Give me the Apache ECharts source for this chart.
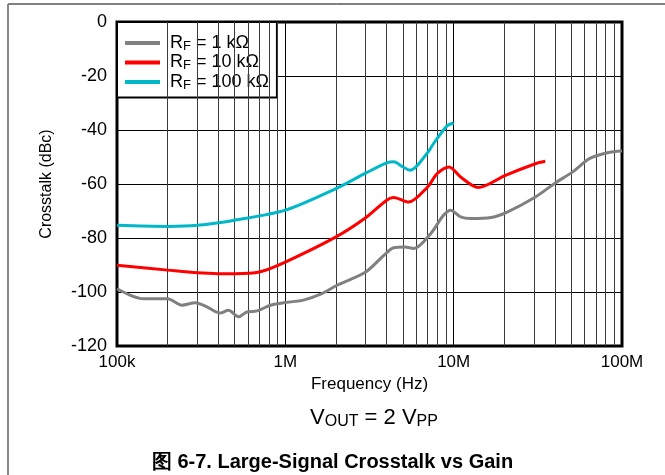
<!DOCTYPE html>
<html>
<head>
<meta charset="utf-8">
<script src="https://cdn.jsdelivr.net/npm/echarts@6/dist/echarts.min.js"></script>
<style>html,body{margin:0;padding:0;background:#fff}#c{width:665px;height:475px}</style>
</head>
<body>
<div id="c"></div>
<script>
// Frequency (Hz) and crosstalk (dBc)
var freq1k = [1.0e5,1.2e5,1.43e5,2.0e5,2.43e5,2.91e5,3.42e5,4.1e5,4.6e5,5.28e5,5.9e5,6.8e5,8.15e5,9.75e5,1.28e6,1.62e6,2.03e6,3.0e6,3.85e6,4.4e6,5.1e6,5.8e6,7.3e6,8.7e6,9.6e6,1.1e7,1.26e7,1.67e7,2.08e7,3.06e7,4.02e7,5.1e7,6.4e7,8.2e7,1.0e8];
var xt1k   = [-98.8,-101.2,-102.5,-102.5,-104.9,-104.0,-105.5,-107.8,-106.8,-109.2,-107.4,-107.0,-104.9,-104.0,-103.0,-100.8,-97.5,-92.6,-86.4,-83.6,-83.3,-83.9,-78.4,-71.6,-69.7,-72.2,-72.8,-72.4,-70.4,-64.8,-59.6,-55.5,-50.6,-48.4,-47.8];
var freq10k = [1.0e5,2.0e5,3.0e5,4.0e5,5.0e5,7.0e5,1.0e6,2.0e6,3.0e6,4.0e6,4.4e6,5.4e6,7.0e6,8.0e6,9.4e6,1.1e7,1.4e7,2.03e7,3.06e7,3.5e7];
var xt10k   = [-90.1,-91.9,-92.9,-93.2,-93.2,-92.6,-88.9,-79.6,-72.5,-66.0,-65.0,-66.7,-61.1,-56.1,-53.7,-57.4,-61.3,-56.8,-52.5,-51.6];
var freq100k = [1.0e5,2.0e5,3.0e5,5.0e5,1.0e6,2.0e6,3.0e6,4.0e6,4.4e6,5.0e6,5.5e6,7.0e6,7.6e6,8.7e6,9.2e6,1.0e7];
var xt100k   = [-75.3,-75.7,-75.3,-73.4,-69.7,-61.7,-56.0,-52.2,-51.8,-53.7,-54.9,-48.4,-45.0,-40.0,-38.3,-37.4];
var seriesNames = ['R{s|F} = 1 kΩ','R{s|F} = 10 kΩ','R{s|F} = 100 kΩ'];
var seriesColors = ['#808080','#ff0000','#00b8c8'];
var xTickLabels = {100000:'100k',1000000:'1M',10000000:'10M',100000000:'100M'};

function pairs(xs, ys){ return xs.map(function(x,i){ return [x, ys[i]]; }); }
var minorGrid = [];
[1e5,1e6,1e7].forEach(function(d){ for (var k=2;k<=9;k++) minorGrid.push({xAxis:d*k}); });

var font = 'Arial, "Liberation Sans", sans-serif';
var chart = echarts.init(document.getElementById('c'), null, {renderer:'canvas'});
var datasets = [pairs(freq1k, xt1k), pairs(freq10k, xt10k), pairs(freq100k, xt100k)];
var series = datasets.map(function(d, i){
  return {
    name: seriesNames[i], type: 'line', data: d, symbol: 'none', smooth: 0.3,
    lineStyle: {color: seriesColors[i], width: 3}, itemStyle: {color: seriesColors[i]},
    z: 5 + i
  };
});
series.push({
  type: 'line', data: [], silent: true, z: 1,
  markLine: {silent: true, symbol: 'none', label: {show: false},
    lineStyle: {color: '#3a3a3a', width: 1, type: 'solid'}, data: minorGrid, animation: false}
});
chart.setOption({
  animation: false,
  backgroundColor: '#fff',
  grid: {left: 117, right: 43, top: 22, bottom: 129, show: true, borderColor: '#000', borderWidth: 3, backgroundColor: 'transparent'},
  title: [
    {text: 'V{s|OUT} = 2 V{s|PP}', left: 369, textAlign: 'center', top: 400,
      textStyle: {fontFamily: font, fontSize: 22, fontWeight: 'normal', color: '#000',
        rich: {s: {fontFamily: font, fontSize: 16, color: '#000', verticalAlign: 'bottom', padding: [9,0,0,0]}}}},
    {text: '图 6-7. Large-Signal Crosstalk vs Gain', left: 'center', top: 447,
      textStyle: {fontFamily: font, fontSize: 20, fontWeight: 'bold', color: '#000'}}
  ],
  legend: {
    orient: 'vertical', left: 117, top: 22, backgroundColor: '#fff', borderColor: '#000', borderWidth: 2,
    padding: [12, 8, 6, 8], itemWidth: 35, itemHeight: 4, itemGap: 1,
    data: seriesNames.map(function(n, i){ return {name: n, icon: 'rect', itemStyle: {color: seriesColors[i]}}; }),
    textStyle: {fontFamily: font, fontSize: 18, color: '#000', padding: [0, 0, 0, 5],
      rich: {s: {fontFamily: font, fontSize: 13, color: '#000', verticalAlign: 'bottom', padding: [6,0,0,0]}}}
  },
  xAxis: {
    type: 'log', logBase: 10, min: 1e5, max: 1e8,
    name: 'Frequency (Hz)', nameLocation: 'middle', nameGap: 30,
    nameTextStyle: {fontFamily: font, fontSize: 17, color: '#000'},
    axisLine: {show: false}, axisTick: {show: false},
    axisLabel: {fontFamily: font, fontSize: 17, color: '#000', margin: 8,
      formatter: function(v){ return xTickLabels[Math.round(v)] || ''; }},
    splitLine: {show: true, lineStyle: {color: '#000', width: 1}}
  },
  yAxis: {
    type: 'value', min: -120, max: 0, interval: 20,
    name: 'Crosstalk (dBc)', nameLocation: 'middle', nameGap: 62,
    nameTextStyle: {fontFamily: font, fontSize: 16, color: '#000'},
    axisLine: {show: false}, axisTick: {show: false},
    axisLabel: {fontFamily: font, fontSize: 18, color: '#000', margin: 10},
    splitLine: {show: true, lineStyle: {color: '#000', width: 1}}
  },
  graphic: [
    {type: 'line', shape: {x1: 8, y1: 4, x2: 665, y2: 4}, style: {stroke: '#000', lineWidth: 1}},
    {type: 'line', shape: {x1: 8, y1: 4, x2: 8, y2: 475}, style: {stroke: '#888', lineWidth: 2}}
  ],
  series: series
});
</script>
</body>
</html>
